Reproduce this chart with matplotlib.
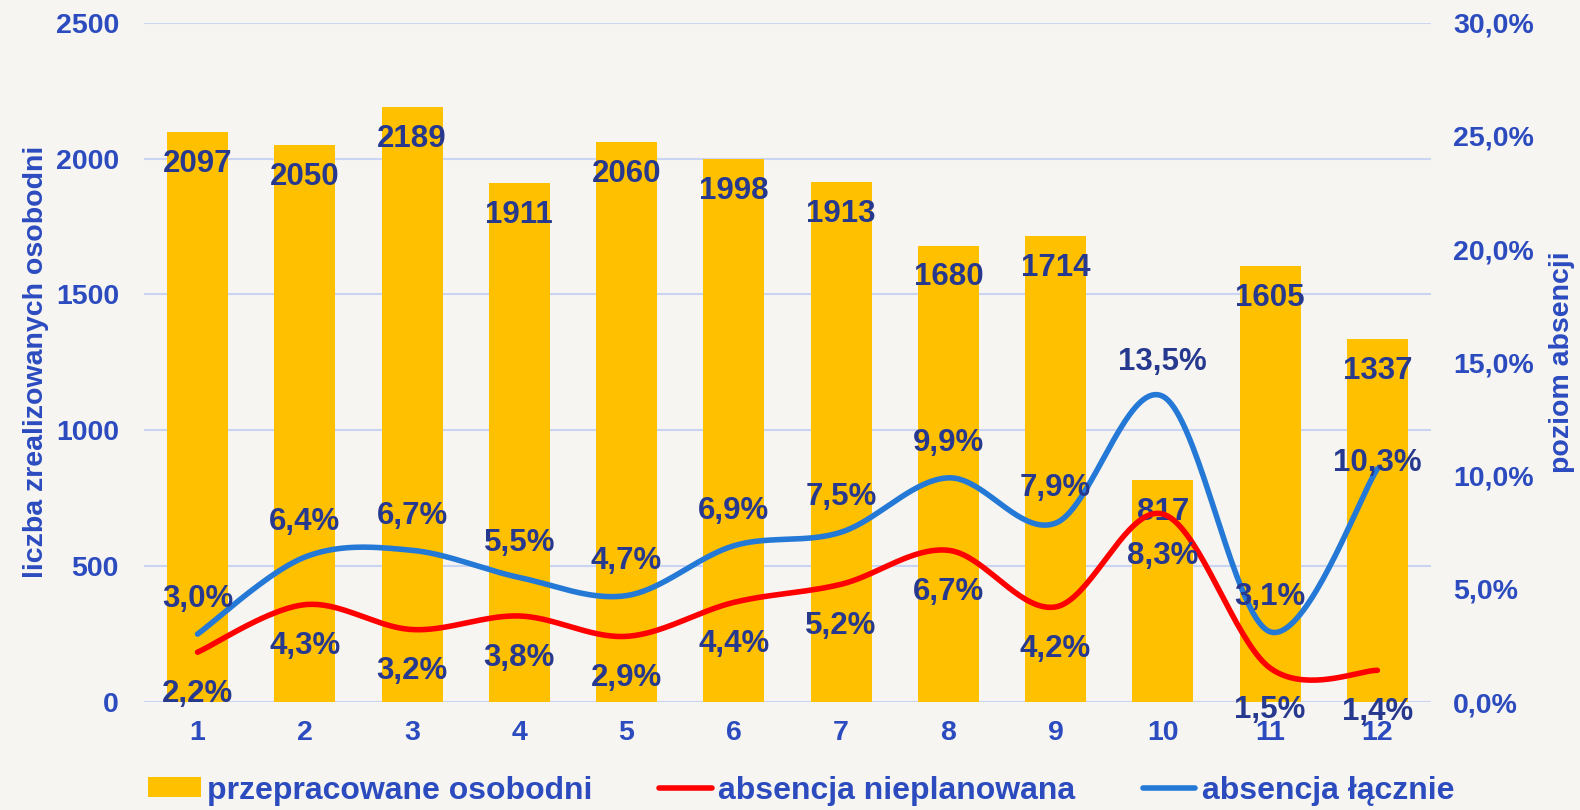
import matplotlib.pyplot as plt
import numpy as np

months = ["1", "2", "3", "4", "5", "6", "7", "8", "9", "10", "11", "12"]
osobodni = [2097, 2050, 2189, 1911, 2060, 1998, 1913, 1680, 1714, 817, 1605, 1337]
abs_nieplan = [2.2, 4.3, 3.2, 3.8, 2.9, 4.4, 5.2, 6.7, 4.2, 8.3, 1.5, 1.4]
abs_lacznie = [3.0, 6.4, 6.7, 5.5, 4.7, 6.9, 7.5, 9.9, 7.9, 13.5, 3.1, 10.3]

BG = "#f6f5f1"
TICK = "#2b4bbf"
LAB = "#27398f"
ORANGE = "#ffc000"
RED = "#ff0000"
BLUE = "#2479d6"


def smooth(x, y, n=40):
    # excel-like smoothed line (catmull-rom bezier)
    x = np.asarray(x, float)
    y = np.asarray(y, float)
    P = np.column_stack([x, y])
    out = []
    for i in range(len(P) - 1):
        p0 = P[i - 1] if i > 0 else P[i]
        p1, p2 = P[i], P[i + 1]
        p3 = P[i + 2] if i + 2 < len(P) else P[i + 1]
        c1 = p1 + (p2 - p0) / 6
        c2 = p2 - (p3 - p1) / 6
        t = np.linspace(0, 1, n)[:, None]
        seg = (1 - t) ** 3 * p1 + 3 * (1 - t) ** 2 * t * c1 + 3 * (1 - t) * t ** 2 * c2 + t ** 3 * p2
        out.append(seg if i == 0 else seg[1:])
    out = np.vstack(out)
    return out[:, 0], out[:, 1]


def fmt(v):
    return f"{v:.1f}%".replace(".", ",")


plt.rcParams['font.family'] = ['Liberation Sans', 'DejaVu Sans']
plt.rcParams['font.weight'] = 'bold'
plt.rcParams['axes.labelweight'] = 'bold'

fig = plt.figure(figsize=(15.8, 8.1), dpi=100, facecolor=BG)
ax = fig.add_axes([0.0911, 0.1333, 0.8146, 0.8387])
ax.set_facecolor(BG)
ax2 = ax.twinx()

x = np.arange(len(months))
bars = ax.bar(x, osobodni, width=0.57, color=ORANGE, zorder=2,
              label="przepracowane osobodni")
ax.set_ylim(0, 2500)
ax.set_yticks(range(0, 2501, 500))
ax.set_xlim(-0.5, len(months) - 0.5)
ax.set_xticks(x)
ax.set_xticklabels(months)
ax.grid(axis="y", color="#c9d5f2", linewidth=1.5, zorder=0)
ax.set_axisbelow(True)
for s in ax.spines.values():
    s.set_visible(False)
for s in ax2.spines.values():
    s.set_visible(False)
ax.tick_params(axis="both", length=0, labelsize=20.5, labelcolor=TICK)
ax.tick_params(axis="x", pad=13)
ax.tick_params(axis="y", pad=18)
ax.set_ylabel("liczba zrealizowanych osobodni", fontsize=20.5, color=TICK,
              fontweight="bold", labelpad=5)

for xi, v in zip(x, osobodni):
    ax.annotate(str(v), (xi, v), xytext=(0, -23), textcoords="offset points",
                ha="center", va="center", fontsize=22.5, color=LAB, zorder=5)

ax2.set_ylim(0, 30)
ax2.set_yticks(range(0, 31, 5))
ax2.set_yticklabels([fmt(v) for v in range(0, 31, 5)])
ax2.tick_params(axis="y", length=0, labelsize=20.5, labelcolor=TICK, pad=16)
ax2.set_ylabel("poziom absencji", fontsize=20.5, color=TICK,
               fontweight="bold", labelpad=11)

sx, sy = smooth(x, abs_nieplan)
ax2.plot(sx, sy, color=RED, linewidth=4, solid_capstyle="round",
         label="absencja nieplanowana", zorder=3)
sx, sy = smooth(x, abs_lacznie)
ax2.plot(sx, sy, color=BLUE, linewidth=4, solid_capstyle="round",
         label="absencja łącznie", zorder=3)

for xi, v in zip(x, abs_nieplan):
    ax2.annotate(fmt(v), (xi, v), xytext=(0, -30), textcoords="offset points",
                 ha="center", va="center", fontsize=22.5, color=LAB, zorder=5)
for i, (xi, v) in enumerate(zip(x, abs_lacznie)):
    dy = 25 if i < len(x) - 1 else 4
    ax2.annotate(fmt(v), (xi, v), xytext=(0, dy), textcoords="offset points",
                 ha="center", va="center", fontsize=22.5, color=LAB, zorder=5)

h1, l1 = ax.get_legend_handles_labels()
h2, l2 = ax2.get_legend_handles_labels()
leg = fig.legend(h1 + h2, l1 + l2, loc="lower center", bbox_to_anchor=(0.507, -0.03),
                 ncol=3, frameon=False, fontsize=23, handlelength=1.65,
                 handletextpad=0.2, columnspacing=2.1, handleheight=0.6)
for t in leg.get_texts():
    t.set_color(TICK)

fig.savefig("out.png", dpi=100, facecolor=BG)
